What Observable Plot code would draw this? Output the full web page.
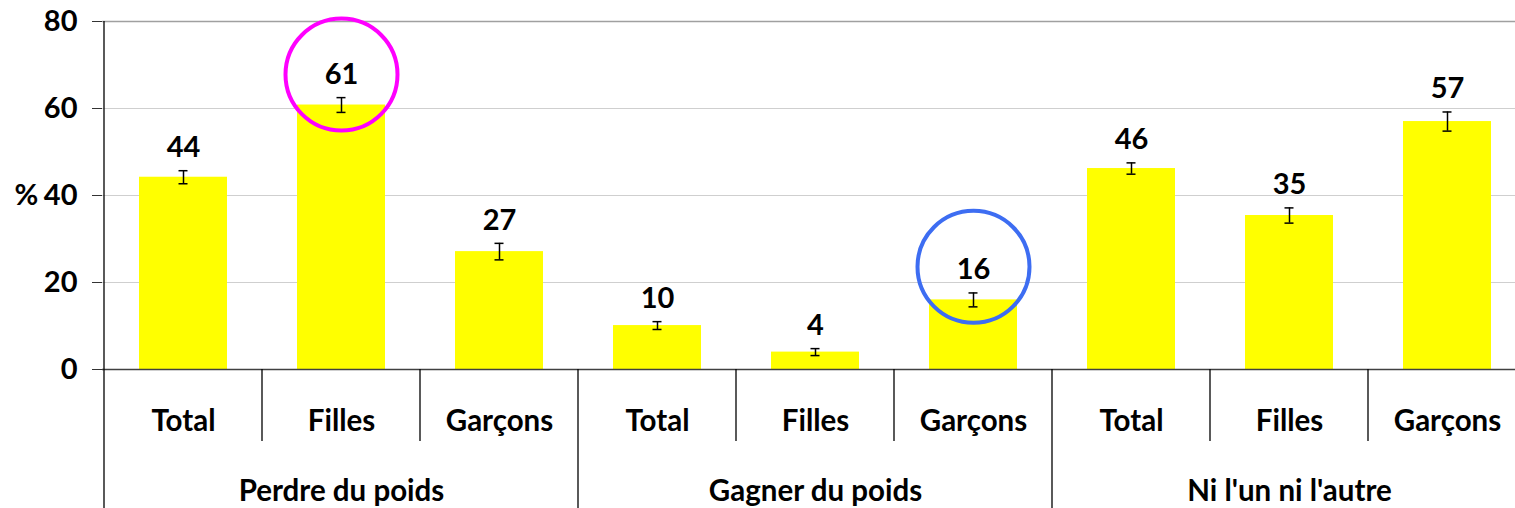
<!DOCTYPE html>
<html>
<head>
<meta charset="utf-8">
<script src="https://cdn.jsdelivr.net/npm/d3@7"></script>
<script src="https://cdn.jsdelivr.net/npm/@observablehq/plot@0.6"></script>
<style>
  html, body { margin: 0; padding: 0; background: #fff; overflow: hidden; }
  #chart svg { display: block; }
</style>
</head>
<body>
<div id="chart"></div>
<script>
const groups = ["Perdre du poids", "Gagner du poids", "Ni l'un ni l'autre"];
const subgroups = ["Total", "Filles", "Garçons"];
const values = [44.2, 60.8, 27.1, 10.1, 4.0, 16.0, 46.2, 35.4, 57.0];
const errors = [1.5, 1.7, 1.9, 0.9, 0.8, 1.6, 1.3, 1.75, 2.2];
const labels = ["44", "61", "27", "10", "4", "16", "46", "35", "57"];
const yTicks = [0, 20, 40, 60, 80];
const highlightIndex = [1, 5];
const highlightCenter = [67.8, 23.6];
const highlightColor = ["#ff00ff", "#3d6df2"];

const rows = [];
groups.forEach((g, gi) => subgroups.forEach((s, si) => {
  const i = gi * 3 + si;
  rows.push({key: g + "|" + s, group: g, sub: s, value: values[i], err: errors[i], label: labels[i], gi, si});
}));
const cats = rows.map(d => d.key);
const highlights = highlightIndex.map((idx, k) => ({key: cats[idx], y: highlightCenter[k], color: highlightColor[k]}));
const groupRows = rows.filter(d => d.si === 1);

const W = 1515, H = 508;
const plot = Plot.plot({
  width: W,
  height: H,
  marginLeft: 102,
  marginRight: 0,
  marginTop: 21,
  marginBottom: 139,
  style: {fontFamily: "Lato, 'Open Sans', sans-serif", color: "#000", background: "#fff"},
  x: {domain: cats, range: [102, 1529], paddingInner: 0.44, paddingOuter: 0.22, axis: null},
  y: {domain: [0, 80], axis: null},
  marks: [
    Plot.gridY([20, 40, 60], {stroke: "#cfcfcf", strokeOpacity: 1, strokeWidth: 1.2}),
    Plot.gridY([80], {stroke: "#a0a0a0", strokeOpacity: 1, strokeWidth: 1.5}),
    Plot.barY(rows, {x: "key", y: "value", fill: "#ffff00"}),
    Plot.ruleY([0], {stroke: "#404040", strokeWidth: 1.5}),
    Plot.axisY(yTicks, {
      tickSize: 10, tickPadding: 15, fontSize: 29, fontWeight: "bold",
      stroke: "#333", fill: "#000", label: null
    }),
    Plot.text([{t: "%", v: 40}], {text: "t", y: "v", frameAnchor: "left", dx: -88, textAnchor: "start", fontSize: 29, fontWeight: "bold", fill: "#000"}),
    Plot.ruleX(rows, {x: "key", y1: d => d.value - d.err, y2: d => d.value + d.err, stroke: "#000", strokeWidth: 1.5}),
    Plot.tickY(rows, {x: "key", y: d => d.value - d.err, stroke: "#000", strokeWidth: 1.5, insetLeft: 39.5, insetRight: 39.5}),
    Plot.tickY(rows, {x: "key", y: d => d.value + d.err, stroke: "#000", strokeWidth: 1.5, insetLeft: 39.5, insetRight: 39.5}),
    Plot.text(rows, {x: "key", y: d => d.value + d.err, text: "label", dy: -23, fontSize: 29, fontWeight: "bold", fill: "#000"}),
    Plot.text(rows, {x: "key", y: () => 0, text: "sub", dy: 52, fontSize: 29.5, fontWeight: "bold", fill: "#000"}),
    Plot.text(groupRows, {x: "key", y: () => 0, text: "group", dy: 122, fontSize: 29.5, fontWeight: "bold", fill: "#000"}),
    Plot.dot(highlights, {x: "key", y: "y", r: 56, stroke: "color", strokeWidth: 4, fill: "none"})
  ]
});

// Category / group separator lines under the axis, positioned with Plot's own scales
const xs = plot.scale("x");
const ys = plot.scale("y");
const y0 = ys.apply(0);
const yTop = ys.apply(80);
const svg = d3.select(plot);
const g = svg.append("g").attr("stroke", "#000").attr("stroke-width", 1.3);
cats.forEach((c, i) => {
  const edge = xs.apply(c) - (xs.step - xs.bandwidth) / 2;
  const isGroup = i % 3 === 0;
  g.append("line")
    .attr("x1", edge).attr("x2", edge)
    .attr("y1", isGroup && i === 0 ? yTop : y0)
    .attr("y2", isGroup ? H : y0 + 72);
});

document.getElementById("chart").append(plot);
</script>
</body>
</html>
